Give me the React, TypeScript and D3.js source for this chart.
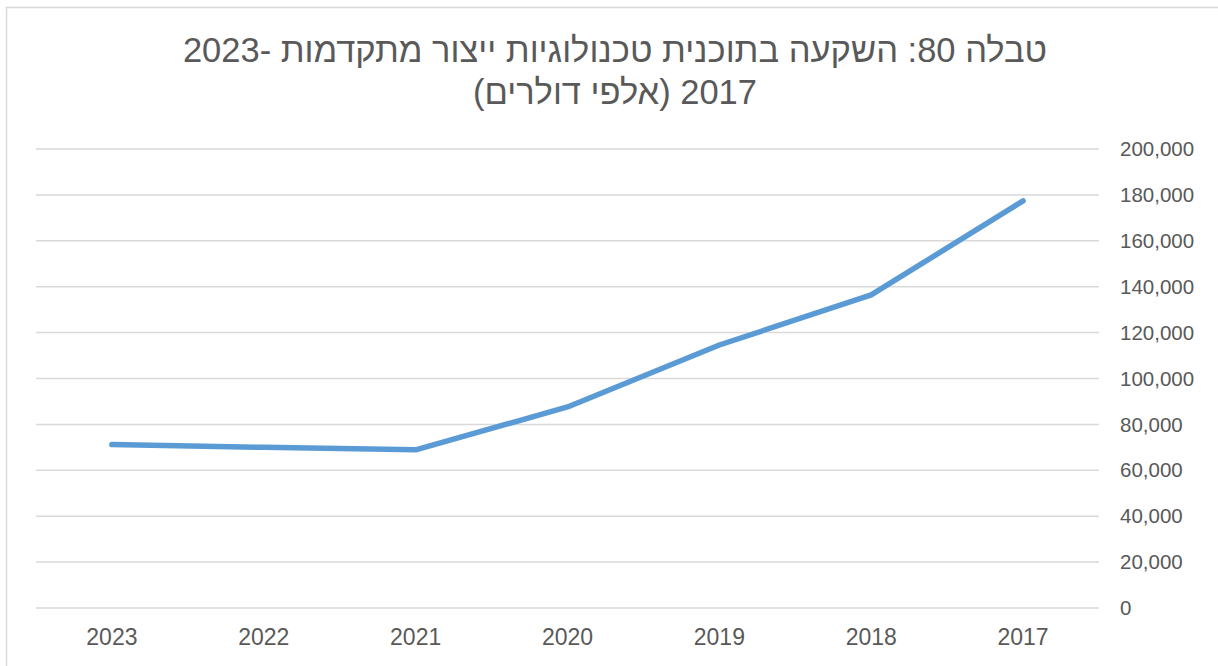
import React from "react";
import * as d3 from "d3";

const categories = ["2023", "2022", "2021", "2020", "2019", "2018", "2017"];
const values = [71200, 70000, 68900, 87600, 114600, 136400, 177400];
const yTicks = [0, 20000, 40000, 60000, 80000, 100000, 120000, 140000, 160000, 180000, 200000];
const titleLines = [
  "טבלה 80: השקעה בתוכנית טכנולוגיות ייצור מתקדמות -2023",
  "2017 (אלפי דולרים)",
];

const W = 1218;
const H = 666;
const plot = { left: 36, right: 1099, top: 149, bottom: 608 };
const textColor = "#595959";
const gridColor = "#d9d9d9";
const lineColor = "#5b9bd5";
const font = "'Liberation Sans', Arial, sans-serif";

export default function App() {
  const x = d3
    .scaleBand<string>()
    .domain(categories)
    .range([plot.left, plot.right]);
  const y = d3.scaleLinear().domain([0, 200000]).range([plot.bottom, plot.top]);
  const fmt = d3.format(",");
  const line = d3
    .line<number>()
    .x((_, i) => (x(categories[i]) as number) + x.bandwidth() / 2)
    .y((d) => y(d));

  return (
    <svg
      width={W}
      height={H}
      style={{ position: "absolute", left: 0, top: 0, background: "#fff" }}
      fontFamily={font}
    >
      <rect x={6.5} y={7.5} width={1240} height={700} fill="#fff" stroke={gridColor} strokeWidth={1.5} />
      <g fill={textColor} fontSize={34.5} textAnchor="middle" direction="rtl">
        {titleLines.map((t, i) => (
          <text key={i} x={615} y={62 + i * 42} direction="rtl" style={{ unicodeBidi: "embed" }}>
            {t}
          </text>
        ))}
      </g>
      <g>
        {yTicks.map((t) => (
          <line
            key={t}
            x1={plot.left}
            x2={plot.right}
            y1={y(t)}
            y2={y(t)}
            stroke={gridColor}
            strokeWidth={1.5}
          />
        ))}
      </g>
      <g fill={textColor} fontSize={20.5}>
        {yTicks.map((t) => (
          <text key={t} x={1120} y={y(t)} dy="0.35em">
            {fmt(t)}
          </text>
        ))}
      </g>
      <g fill={textColor} fontSize={23} textAnchor="middle">
        {categories.map((c) => (
          <text key={c} x={(x(c) as number) + x.bandwidth() / 2} y={645}>
            {c}
          </text>
        ))}
      </g>
      <path
        d={line(values) || ""}
        fill="none"
        stroke={lineColor}
        strokeWidth={5.5}
        strokeLinecap="round"
        strokeLinejoin="round"
      />
    </svg>
  );
}
